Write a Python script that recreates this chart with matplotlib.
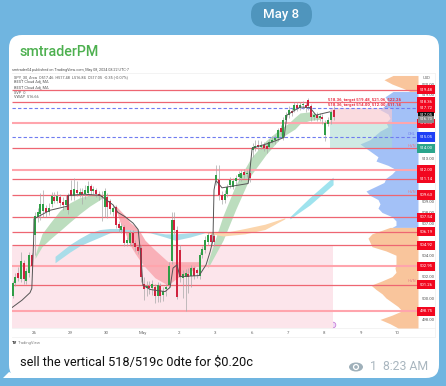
import matplotlib
matplotlib.use('Agg')
import matplotlib.pyplot as plt
from matplotlib.patches import FancyBboxPatch, Ellipse, Circle, Rectangle, Polygon
import numpy as np

plt.rcParams['font.family'] = ['Roboto', 'DejaVu Sans']

# 30 min bars, prices
first_bar = -0.592
bar_step = 1 / 13
opens = [500.2,501.4,502.3,501.8,503.3,501.6,502.3,504.0,505.9,507.6,
         507.9,508.1,508.4,508.0,508.8,509.4,509.1,509.4,509.0,508.7,
         509.6,510.1,509.5,510.1,509.7,509.9,509.7,509.8,510.5,510.0,
         510.1,509.7,509.5,508.5,509.4,509.1,508.0,508.5,506.9,506.4,
         506.6,505.1,505.1,506.1,505.1,504.8,504.7,501.3,500.9,501.1,
         500.9,501.0,500.2,501.1,500.3,500.8,501.2,503.5,507.3,506.4,
         504.5,501.9,502.0,502.2,502.1,502.8,502.6,502.1,504.0,504.5,
         505.2,505.9,505.8,511.0,511.0,509.6,509.2,509.7,510.6,510.4,
         510.9,511.3,511.2,511.8,511.6,511.7,513.8,514.0,514.3,514.1,
         514.3,514.2,514.1,514.6,514.8,515.0,515.9,515.0,516.6,517.1,
         517.5,517.6,518.0,517.8,518.0,518.0,518.5,517.9,516.9,517.1,
         516.8,516.9,515.2,516.3,516.6,517.6]
closes = [501.4,502.0,501.9,503.5,501.8,502.5,504.0,503.0,507.7,508.0,
          508.8,508.8,508.0,508.4,509.5,509.1,509.5,508.9,508.7,509.2,
          508.2,509.5,510.2,509.8,509.9,509.7,510.1,510.5,510.0,510.2,
          509.7,509.5,509.4,510.0,508.5,508.3,508.4,506.8,506.5,506.7,
          505.1,505.4,506.1,505.1,504.8,504.4,502.0,500.8,501.1,500.9,
          501.3,500.2,501.2,500.2,500.7,501.0,503.0,507.3,506.4,500.1,
          502.0,502.2,502.3,502.0,502.8,502.1,502.3,504.0,504.6,505.4,
          505.9,505.2,505.2,511.5,509.6,509.2,509.7,510.4,511.0,510.9,
          511.2,511.6,511.7,511.5,511.7,511.2,514.1,514.2,514.1,514.3,
          514.0,513.9,514.6,514.8,515.0,515.7,515.5,516.6,517.1,517.6,
          517.3,518.0,517.8,518.0,518.1,517.8,517.9,516.9,517.1,516.8,
          517.0,516.7,516.4,516.6,517.4,516.9]
highs = [501.6,502.3,502.9,504.3,503.6,502.8,504.3,504.2,508.0,508.4,
         509.8,510.1,508.7,508.9,509.9,509.9,510.0,509.7,509.4,509.6,
         509.8,511.0,511.2,510.9,510.3,510.3,510.6,510.9,510.7,510.5,
         510.3,510.0,510.0,510.3,509.8,509.3,508.7,508.7,507.2,507.0,
         506.8,505.7,506.4,506.4,505.4,505.0,505.0,502.0,501.6,501.6,
         501.7,501.3,501.5,501.4,501.0,501.3,503.4,508.0,508.0,506.7,
         505.0,502.6,502.7,502.8,503.1,503.0,502.8,504.3,504.9,505.8,
         506.2,506.1,506.0,512.4,512.4,510.0,510.1,510.7,511.3,511.2,
         511.5,511.9,512.0,512.1,512.0,512.1,514.5,514.8,514.8,514.7,
         514.6,514.6,514.9,515.1,515.2,515.9,516.2,516.9,517.4,517.9,
         517.8,518.3,518.3,518.3,518.4,518.3,518.7,518.1,517.3,517.4,
         517.3,517.2,516.6,516.9,517.6,517.9]
lows = [500.0,501.1,501.6,501.5,501.3,501.3,502.0,502.6,504.0,507.1,
        507.3,507.6,507.6,507.8,508.5,508.9,508.9,508.6,508.2,508.5,
        507.9,509.2,509.2,509.5,509.4,508.8,509.3,509.5,509.6,509.7,
        509.4,509.2,507.2,507.6,507.5,507.9,507.7,506.5,506.2,506.1,
        504.9,504.9,504.9,504.9,504.4,504.1,501.5,499.8,500.2,500.4,
        500.3,499.5,499.6,499.6,499.7,500.2,500.9,503.2,506.0,499.9,
        501.5,500.0,498.8,500.5,501.0,501.8,501.9,501.8,503.7,504.2,
        505.0,504.9,504.9,510.6,509.2,508.8,508.9,509.4,510.3,510.2,
        510.6,510.9,510.9,511.2,511.3,510.8,513.2,513.7,513.8,513.9,
        513.7,513.6,513.9,514.5,514.4,514.7,515.2,514.8,516.8,516.8,
        517.0,517.4,517.5,517.6,517.7,517.4,517.6,516.5,516.6,516.5,
        516.5,516.3,514.7,516.1,516.3,516.6]

# anchored vwap style line
vwap_day = [-0.61,-0.33,-0.11,-0.06,-0.01,0,.44,.94,.95,1.40,1.82,2.18,2.31,2.51,2.73,2.87,2.95,3.0,3.2,3.61,
            3.75,3.83,3.94,4.02,4.55,4.74,4.85,4.93,4.96,5.01,5.18,5.9,5.95,6.01,6.5,6.89,6.97,7.33,7.6,7.77,8.15]
vwap_px = [499.1,499.8,500.5,500.9,505.4,507.4,508.2,508.6,509.6,509.7,509.6,508.7,508.0,507.6,507.0,506.4,503.7,501.2,500.8,500.6,
           501.0,502.8,503.1,502.0,502.1,503.1,504.3,505.4,510.1,511.0,510.3,510.7,512.0,514.0,514.5,515.0,517.1,517.85,517.8,517.1,517.4]

# clouds
green1_day = [.03,.22,.44,.72,.99,1.27,1.54,1.82,1.90]
green1_hi = [504.0,506.0,507.0,508.2,508.9,509.4,509.6,509.8,509.4]
green1_lo = [503.7,504.8,505.5,506.3,507.1,507.9,508.6,509.2,509.4]
red_day = [2.23,2.37,2.51,2.64,2.78,2.92,3.06,3.33,3.69,3.95,4.30,4.60]
red_hi = [508.7,508.2,507.7,507.1,506.7,506.2,505.4,504.5,503.4,503.4,503.4,503.4]
red_lo = [508.5,507.1,506.1,505.0,504.2,503.5,502.9,501.9,501.2,501.9,502.4,503.4]
green2_day = [4.79,5.21,5.56,5.98,6.39,6.78,7.0,7.19,7.33,7.6,7.88]
green2_hi = [503.4,507.7,510.6,513.1,514.7,515.8,516.3,516.9,517.3,517.4,517.0]
green2_lo = [502.8,505.4,508.3,511.5,513.4,514.9,515.4,515.8,516.3,516.6,516.7]
blue_day = [.58,.99,1.27,1.54,1.82,2.09,2.37,2.78,3.20,3.61,3.89,4.30,4.71]
blue_hi = [503.9,505.0,505.6,506.1,506.4,506.5,506.5,506.3,506.2,506.0,506.0,506.1,506.2]
blue_lo = [503.3,504.3,504.9,505.3,505.7,506.1,506.2,506.2,506.1,505.7,505.4,505.7,506.1]
orange_day = [4.71,5.21,5.81,6.36,6.91]
orange_hi = [506.2,506.1,506.5,506.9,507.5]
orange_lo = [506.1,505.8,506.0,506.4,507.4]
cyan_day = [7.05,7.6,8.24]
cyan_hi = [507.6,509.4,511.3]
cyan_lo = [507.4,508.7,510.6]

# volume profile, one silhouette for the value area and one for each tail
vp_price_top = [520.8,520.4,520.0,519.6,519.3]
vp_size_top = [25,34,26,15,8]
vp_price_mid = [519.3,518.8,518.4,518.0,517.6,517.2,
                516.8,516.4,516.0,515.6,515.2,514.8,514.4,514.0,513.6,513.2,
                512.8,512.4,512.0,511.6,511.2,510.8,510.4,510.0,509.6,509.2,
                508.8,508.4,508.0,507.6,507.2,506.8,506.6]
vp_size_mid = [25,33,30,33,38,30,
               28,32,30,38,43,48,58,52,46,40,
               42,30,22,26,32,34,43,52,48,40,
               38,40,36,26,22,22,26]
vp_price_low = [506.6,506.4,506.0,505.6,505.2,
                504.8,504.4,504.0,503.6,503.2,502.8,502.4,502.0,501.6,501.2,
                500.8,500.4,500.0,499.6,499.2,498.8,498.4,498.0,497.6,497.2]
vp_size_low = [28,34,46,50,48,
               46,32,22,22,22,23,22,26,36,47,
               42,36,32,26,20,16,26,38,28,20]

levels = [519.48,518.36,514.00,511.14,509.63,507.54,506.19,504.92,501.26]
levels_thick = [516.33,512.00,502.95,498.75]
dashed = [517.72,515.05]
price_ticks = [520,519,513,510,509,508,507,504,502,500,498]
red_tags = [519.48,518.36,517.72,516.33,512.00,511.14,509.63,507.54,506.19,504.92,502.95,501.26,498.75]
day_ticks = [0,1,2,3,4,5,6,7,8,9,10]
day_labels = ['26','29','30','May','2','3','6','7','8','9','10']

W, H = 446, 386
BG = '#70B5E0'
fig = plt.figure(figsize=(W / 100, H / 100), dpi=100, facecolor=BG)

# page furniture, in pixels
pg = fig.add_axes([0, 0, 1, 1], zorder=0)
pg.set_xlim(0, W)
pg.set_ylim(H, 0)
pg.axis('off')
pg.add_patch(FancyBboxPatch((251 + 12, 2 + 12), 61 - 24, 25 - 24, boxstyle='round,pad=12', fc='#4F95BD', ec='none'))
pg.text(281.5, 14.5, 'May 8', color='white', fontsize=9.5, ha='center', va='center', fontweight='medium')
pg.add_patch(FancyBboxPatch((9 + 13, 35 + 13), 430 - 26, 343 - 26, boxstyle='round,pad=13', fc='white', ec='none'))
pg.add_patch(Polygon([(3, 378), (9, 372), (24, 378)], fc='white', ec='none'))
pg.text(20, 52.5, 'smtraderPM', color='#4DB04F', fontsize=10.3, va='center', fontweight='medium')
pg.text(20, 362.5, 'sell the vertical 518/519c 0dte for $0.20c', color='#111111', fontsize=9.15, va='center')
pg.add_patch(Ellipse((356, 367), 14, 9, fc='#9FB0BA', ec='none'))
pg.add_patch(Circle((356, 367), 3.1, fc='white', ec='none'))
pg.add_patch(Circle((356, 367), 1.8, fc='#9FB0BA', ec='none'))
pg.text(370, 367, '1', color='#A9B6BF', fontsize=8.8, va='center')
pg.text(383, 367, '8:23 AM', color='#A9B6BF', fontsize=8.8, va='center')
pg.text(12, 70.5, 'smtrader04 published on TradingView.com, May 08, 2024 08:22 UTC-7', color='#555555', fontsize=2.7, va='center')
pg.text(18, 343, 'TradingView', color='#888888', fontsize=3, va='center')
pg.text(12, 343, 'TV', color='#222222', fontsize=3, va='center', fontweight='bold')
pg.plot([12, 435, 435, 12], [73, 73, 337, 337], color='#EEEEEE', lw=0.5)
pg.plot([12, 435], [328, 328], color='#EEEEEE', lw=0.5)

rect = [12 / W, (H - 328) / H, 406 / W, 255 / H]
ymin, ymax = 497.2, 521.03
xmin, xmax = -0.606, 10.58

# profile sits under the price axes so the boxes and lines go on top
vp = fig.add_axes(rect, zorder=1)
vp.patch.set_alpha(0)
vp.set_xlim(406, 0)
vp.set_ylim(ymin, ymax)
vp.axis('off')
vp.fill_betweenx(vp_price_top, vp_size_top, 0, color='#F9C59C', lw=0)
vp.fill_betweenx(vp_price_mid, vp_size_mid, 0, color='#A3C1F7', lw=0)
vp.fill_betweenx(vp_price_low, vp_size_low, 0, color='#F9C59C', lw=0)

ax = fig.add_axes(rect, zorder=2)
ax.patch.set_alpha(0)
ax.set_xlim(xmin, xmax)
ax.set_ylim(ymin, ymax)
for s in ax.spines.values():
    s.set_visible(False)

ax.add_patch(Rectangle((xmin, ymin), 8.24 - xmin, 504.92 - ymin, fc='#FCE5EB', ec='none', zorder=0))
ax.add_patch(Rectangle((8.15, 516.33), 1.71, 517.72 - 516.33, fc='#F8C9CF', alpha=0.65, ec='none', zorder=1))
ax.add_patch(Rectangle((8.15, 514.00), 1.71, 516.33 - 514.00, fc='#A9DACF', alpha=0.55, ec='none', zorder=1))

ax.fill_between(green1_day, green1_lo, green1_hi, color='#BCDDBE', lw=0, zorder=2)
ax.fill_between(green2_day, green2_lo, green2_hi, color='#BCDDBE', lw=0, zorder=2)
ax.fill_between(red_day, red_lo, red_hi, color='#F9B0B8', lw=0, zorder=2)
ax.fill_between(blue_day, blue_lo, blue_hi, color='#A9DDE9', lw=0, zorder=2)
ax.fill_between(orange_day, orange_lo, orange_hi, color='#FBD5AC', lw=0, zorder=2)
ax.fill_between(cyan_day, cyan_lo, cyan_hi, color='#9FE3EE', lw=0, zorder=2)

ax.hlines(levels_thick, xmin, xmax, color='#FFA5AD', lw=1.5, zorder=3)
ax.hlines(levels, xmin, xmax, color='#EE6672', lw=0.9, zorder=3)
ax.hlines(dashed, xmin, xmax, color='#6F7CF0', lw=0.8, linestyles=(0, (3, 2)), zorder=3)

bar_day = first_bar + np.arange(len(opens)) * bar_step
o = np.array(opens)
c = np.array(closes)
candle_colors = np.where(c >= o, '#2F9E46', '#D0233F')
ax.vlines(bar_day, lows, highs, color='#A8A8A8', lw=0.5, zorder=4)
ax.bar(bar_day, np.maximum(np.abs(c - o), 0.12), bottom=np.minimum(o, c), width=0.055, color=candle_colors, lw=0, zorder=5)
ax.plot(vwap_day, vwap_px, color='#555555', lw=0.7, zorder=6)

ax.set_xticks(day_ticks)
ax.set_xticklabels(day_labels, fontsize=3.2, color='#666666')
ax.tick_params(axis='x', length=0, pad=2.5)
ax.yaxis.tick_right()
ax.set_yticks(price_ticks)
ax.set_yticklabels(['%.2f' % p for p in price_ticks], fontsize=3.1, color='#555555')
ax.tick_params(axis='y', length=0, pad=3)

TAG_X = 10.81
for p in red_tags:
    ax.text(TAG_X, p, '%.2f' % p, color='white', fontsize=3.1, ha='center', va='center', clip_on=False, zorder=8,
            bbox=dict(fc='#F2071F', ec='none', boxstyle='square,pad=0.6'))
ax.text(TAG_X, 515.05, '515.05', color='white', fontsize=3.1, ha='center', va='center', clip_on=False, zorder=8,
        bbox=dict(fc='#1F3FF5', ec='none', boxstyle='square,pad=0.6'))
ax.text(TAG_X, 514.00, '514.00', color='white', fontsize=3.1, ha='center', va='center', clip_on=False, zorder=8,
        bbox=dict(fc='#2BA58C', ec='none', boxstyle='square,pad=0.6'))
ax.text(TAG_X, 517.10, '517.05', color='white', fontsize=3.1, ha='center', va='center', clip_on=False, zorder=8,
        bbox=dict(fc='#111111', ec='none', boxstyle='square,pad=0.35'))
ax.text(TAG_X, 516.72, '516.70', color='white', fontsize=3.1, ha='center', va='center', clip_on=False, zorder=8,
        bbox=dict(fc='#888888', ec='none', boxstyle='square,pad=0.35'))
ax.text(TAG_X, 520.55, 'USD', color='#666666', fontsize=3.1, ha='center', va='center', clip_on=False, zorder=8)

ax.text(8.1, 518.55, '518.36, target 519.48, 521.06, 522.26', color='#E8283C', fontsize=3.1, fontweight='bold', va='center', zorder=7)
ax.text(8.1, 518.05, '518.36, target 514.00, 512.00, 511.14', color='#E8283C', fontsize=3.1, fontweight='bold', va='center', zorder=7)
ax.text(10.4, 515.35, 'CHL', color='#6F7CF0', fontsize=3, ha='center', va='center', zorder=7)
for p in [514.25, 509.95, 501.55]:
    ax.text(10.4, p, 'HVN', color='#E8818B', fontsize=3, ha='center', va='center', zorder=7)

# legend block of the chart
legend_lines = ['SPY, 30, Arca  O517.46  H517.48  L516.84  C517.05  -0.35 (-0.07%)', 'BEST Cloud Adj, MA',
                'BEST Cloud Adj, MA', 'SVP  0', 'VWAP  516.66']
for txt, y in zip(legend_lines, [77.5, 82.5, 87.5, 92.5, 97.5]):
    pg.text(14, y, txt, color='#555555', fontsize=2.8, va='center', zorder=9)

pg.add_patch(Circle((333, 325), 2.8, fc='#F0D9F5', ec='#C77FD8', lw=0.6))

fig.savefig('out.png', dpi=100, facecolor=fig.get_facecolor())
